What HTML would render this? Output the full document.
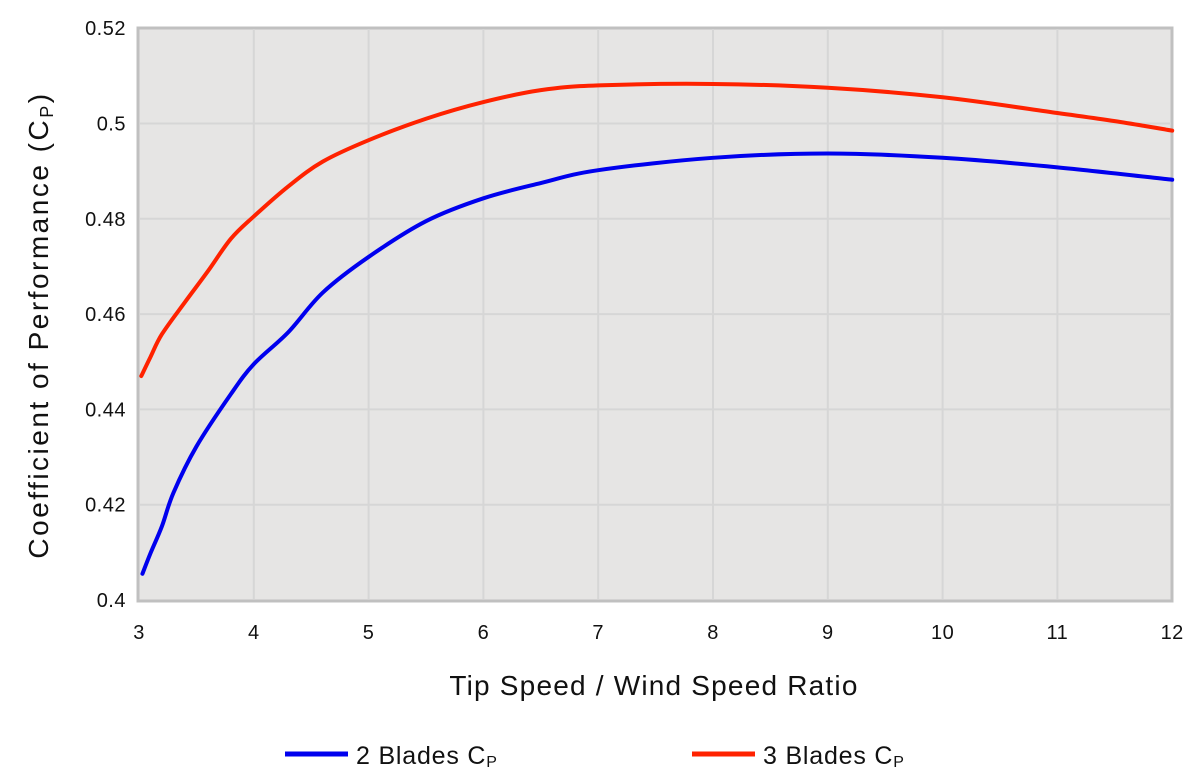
<!DOCTYPE html>
<html><head><meta charset="utf-8"><style>
html,body{margin:0;padding:0;background:#fff;}
svg{display:block;font-family:"Liberation Sans",sans-serif;}
</style></head><body>
<svg id="s" width="1200" height="780" viewBox="0 0 1200 780">
<rect x="138" y="28" width="1034" height="573" fill="#e6e5e4" stroke="#c0c0c0" stroke-width="3"/>
<g id="grid" stroke="#d6d6d6" stroke-width="2"></g>
<g id="ticks" font-size="20" fill="#111" letter-spacing="0.5"></g>
<path id="red" fill="none" stroke="#ff2200" stroke-width="4" stroke-linecap="round"/>
<path id="blue" fill="none" stroke="#0000ee" stroke-width="4" stroke-linecap="round"/>
<text x="654" y="695" font-size="28" text-anchor="middle" fill="#111" letter-spacing="1.2">Tip Speed / Wind Speed Ratio</text>
<text transform="translate(48,325) rotate(-90)" font-size="28" text-anchor="middle" fill="#111" letter-spacing="2.5">Coefficient of Performance (C<tspan font-size="18" dy="5">P</tspan><tspan dy="-5">)</tspan></text>
<line x1="285" y1="754" x2="348" y2="754" stroke="#0000ee" stroke-width="5"/>
<text x="356" y="764" font-size="25" fill="#111" letter-spacing="0.8">2 Blades C<tspan font-size="16" dy="3">P</tspan></text>
<line x1="692" y1="754" x2="755" y2="754" stroke="#ff2200" stroke-width="5"/>
<text x="763" y="764" font-size="25" fill="#111" letter-spacing="0.8">3 Blades C<tspan font-size="16" dy="3">P</tspan></text>
</svg>
<script>
var X=function(v){return 139+(v-3)*114.8;},Y=function(v){return 600-(v-0.4)/0.02*95.3;};
var g=document.getElementById('grid'),t=document.getElementById('ticks'),ns='http://www.w3.org/2000/svg';
function el(p,n,a,txt){var e=document.createElementNS(ns,n);for(var k in a)e.setAttribute(k,a[k]);if(txt)e.textContent=txt;p.appendChild(e);}
for(var i=4;i<=11;i++)el(g,'line',{x1:X(i),y1:29,x2:X(i),y2:599});
for(var j=1;j<6;j++){var v=0.4+j*0.02;el(g,'line',{x1:140,y1:Y(v),x2:1171,y2:Y(v)});}
for(var i=3;i<=12;i++)el(t,'text',{x:X(i),y:639,'text-anchor':'middle'},''+i);
var yl=['0.4','0.42','0.44','0.46','0.48','0.5','0.52'];
for(var j=0;j<7;j++)el(t,'text',{x:126,y:Y(0.4+j*0.02)+7,'text-anchor':'end'},yl[j]);
function path(d){var p=d.map(function(q){return[X(q[0]),Y(q[1])];});var s='M'+p[0][0]+','+p[0][1];
for(var i=0;i<p.length-1;i++){var p0=p[Math.max(0,i-1)],p1=p[i],p2=p[i+1],p3=p[Math.min(p.length-1,i+2)];
s+=' C'+(p1[0]+(p2[0]-p0[0])/6)+','+(p1[1]+(p2[1]-p0[1])/6)+' '+(p2[0]-(p3[0]-p1[0])/6)+','+(p2[1]-(p3[1]-p1[1])/6)+' '+p2[0]+','+p2[1];}return s;}
var red=[[3.02,.447],[3.1,.451],[3.2,.4558],[3.4,.4625],[3.6,.469],[3.8,.4758],[4,.4805],[4.3,.4868],[4.6,.492],[5,.4965],[5.5,.501],[6,.5045],[6.5,.507],[7,.508],[8,.5083],[9,.5075],[10,.5055],[11,.5022],[11.5,.5005],[12,.4985]];
var blue=[[3.03,.4055],[3.1,.4098],[3.2,.4155],[3.3,.4225],[3.5,.4322],[3.8,.4432],[4,.4495],[4.3,.4562],[4.6,.4645],[5,.472],[5.5,.4795],[6,.4843],[6.5,.4875],[7,.4902],[8,.4928],[9,.4937],[10,.4928],[11,.4908],[12,.4882]];
document.getElementById('red').setAttribute('d',path(red));
document.getElementById('blue').setAttribute('d',path(blue));
</script>
</body></html>
